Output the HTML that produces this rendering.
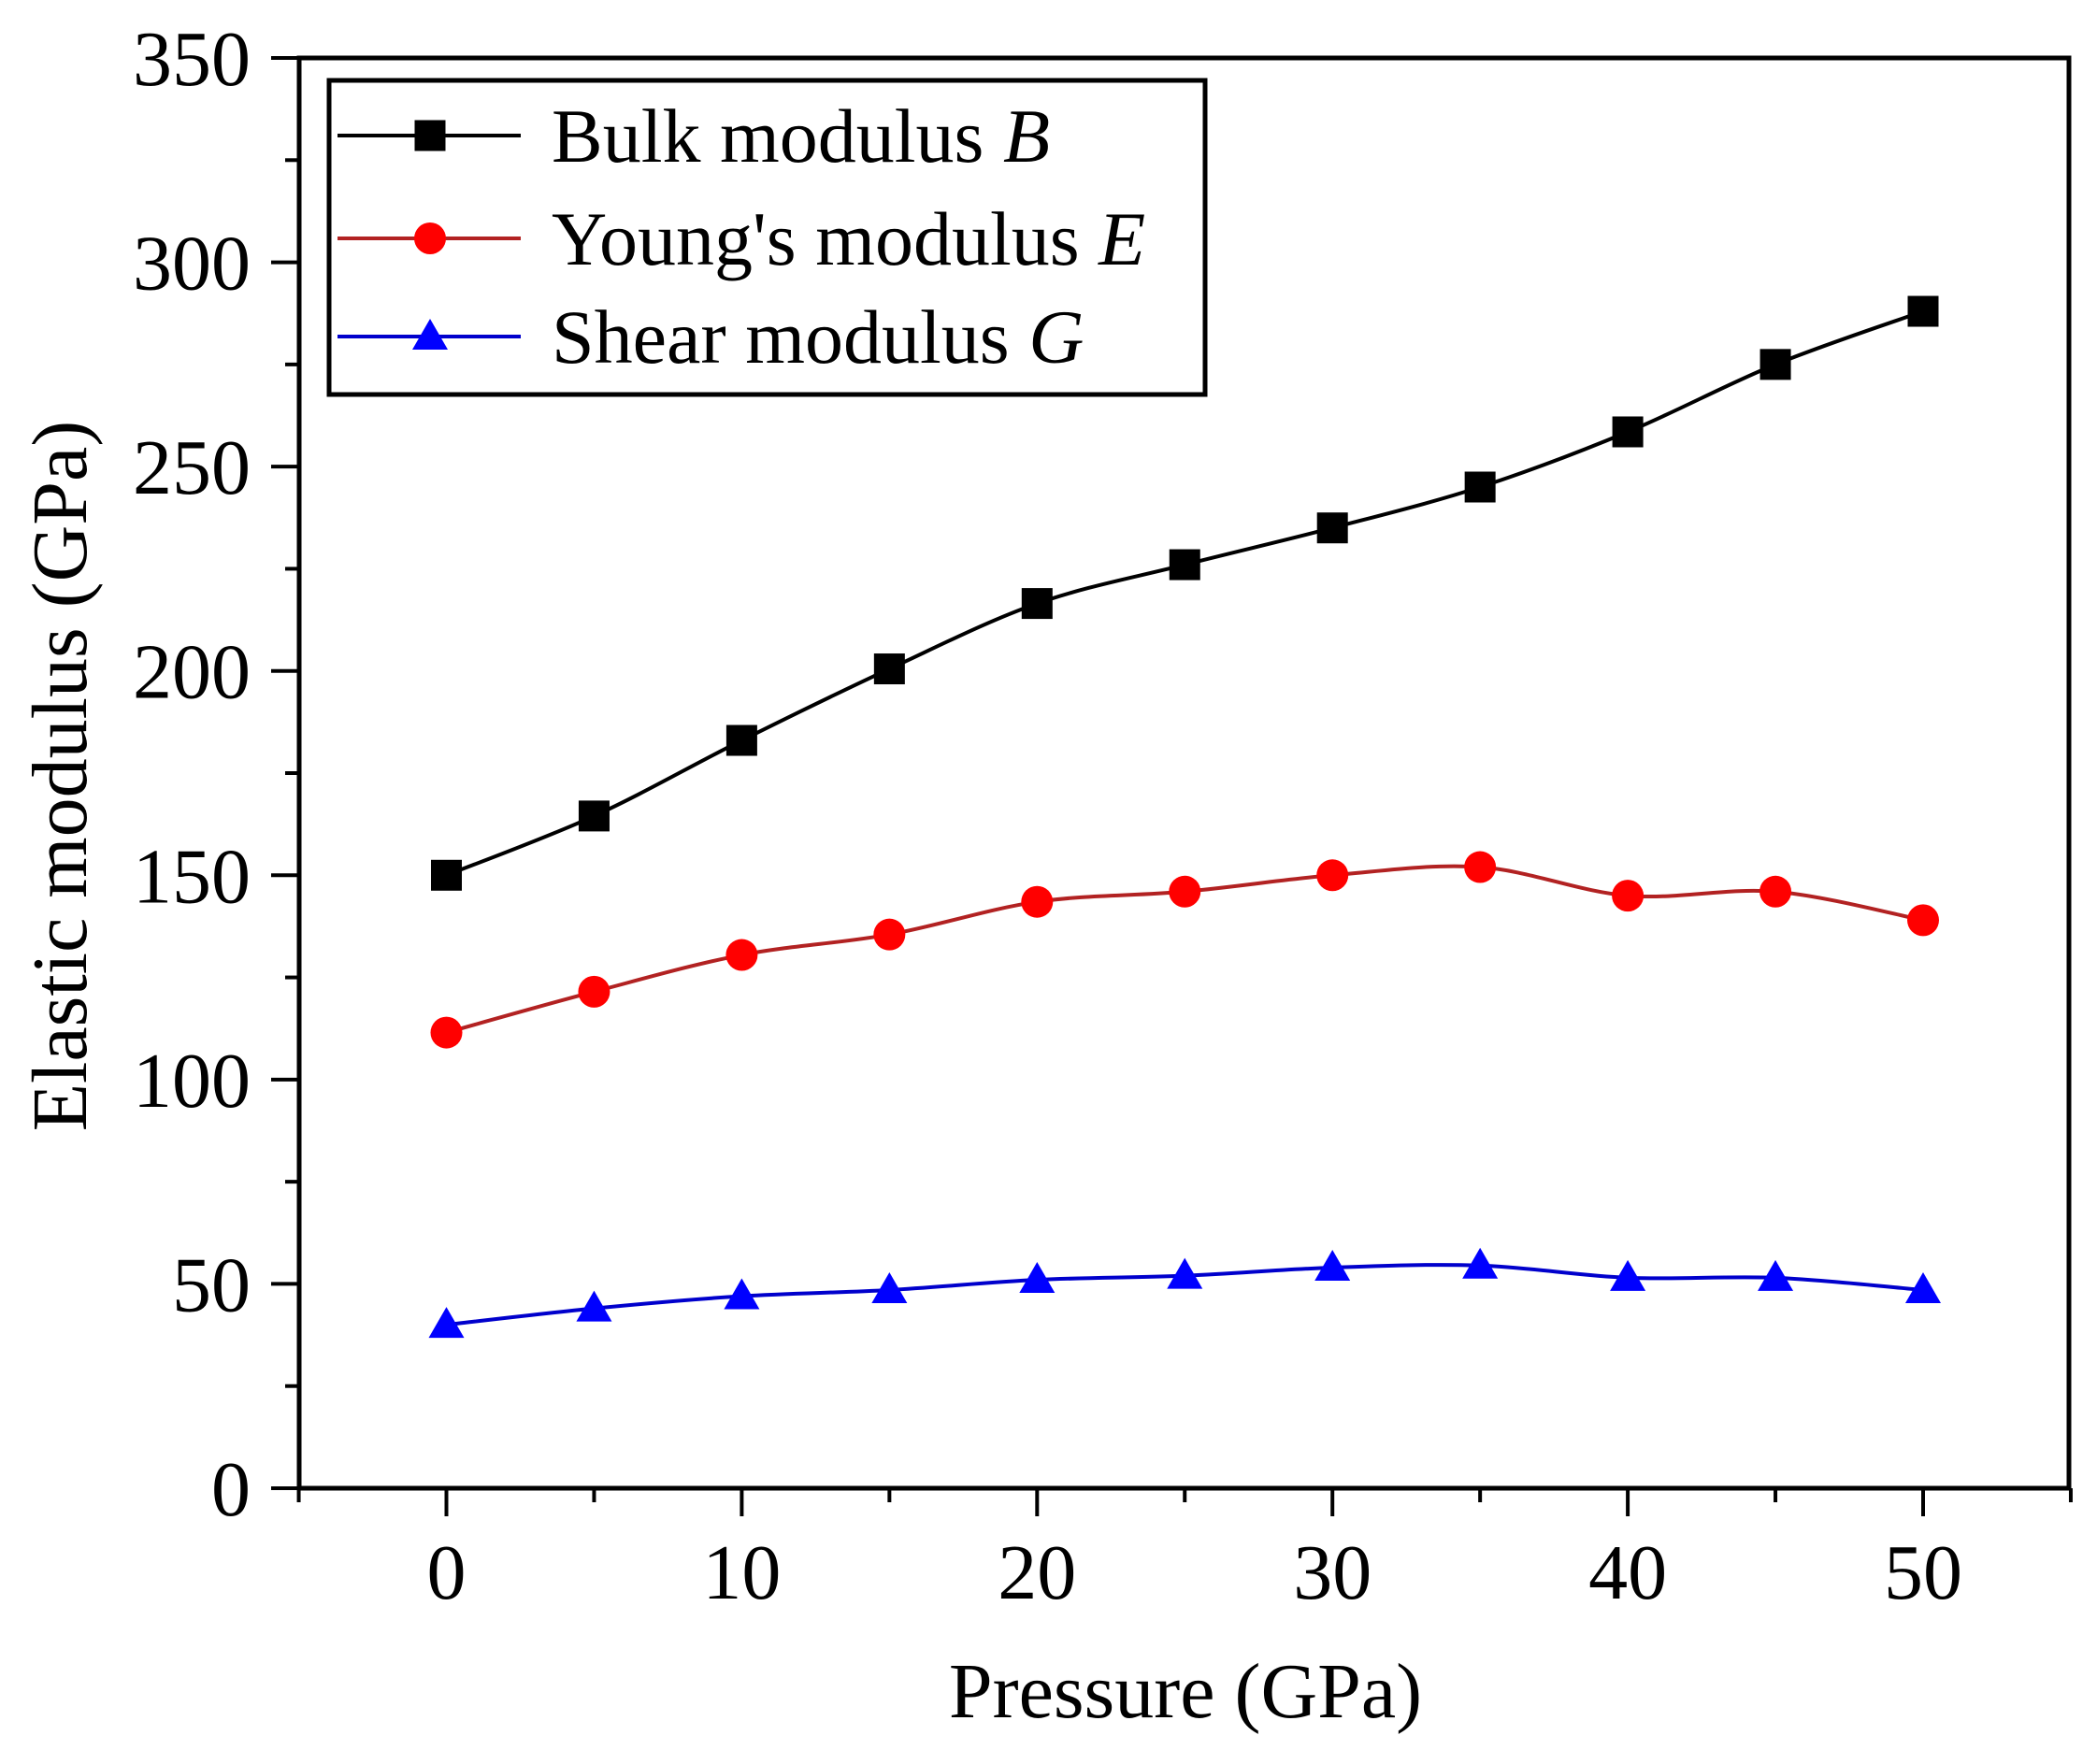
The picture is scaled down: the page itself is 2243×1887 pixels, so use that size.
<!DOCTYPE html>
<html><head><meta charset="utf-8"><style>
html,body{margin:0;padding:0;background:#fff;}
svg text{font-family:"Liberation Serif",serif;fill:#000;}
</style></head><body>
<svg id="chart" width="2243" height="1882" viewBox="0 0 2243 1882" xmlns="http://www.w3.org/2000/svg"></svg>
<script>
const pressures = [0,5,10,15,20,25,30,35,40,45,50];
const bulkB = [150,164.5,183,200.5,216.5,226,235,245,258.5,275,288];
const youngE = [111.5,121.5,130.5,135.5,143.5,146,150,152,145,146,139];
const shearG = [40,44,47,48.5,51,52,54,54.5,51.5,51.5,48.5];
const xTickLabels = [0,10,20,30,40,50];
const yTickLabels = [0,50,100,150,200,250,300,350];

const L=320,R=2213,T=62,B=1592;
const xs=v=>477.5+(v-0)*(2057-477.5)/50;
const ys=v=>B-v*(B-T)/350;
const svg=document.getElementById('chart');
const NS='http://www.w3.org/2000/svg';
function mk(tag,attrs,parent){const e=document.createElementNS(NS,tag);for(const k in attrs)e.setAttribute(k,attrs[k]);(parent||svg).appendChild(e);return e;}

const frame=mk('rect',{x:L,y:T,width:R-L,height:B-T,fill:'none',stroke:'#000','stroke-width':5});



for(let v=-5;v<=55;v+=5){
  const major=v%10===0;
  const t=mk('line',{x1:xs(v),x2:xs(v),y1:B,y2:B+(major?30:15),stroke:'#000','stroke-width':4});
  
  
}
xTickLabels.forEach(v=>{
  const t=mk('text',{x:xs(v),y:1710,'font-size':84,'text-anchor':'middle'});
  t.textContent=v;
  
  
});
for(let v=0;v<=350;v+=25){
  const major=v%50===0;
  const t=mk('line',{x1:L,x2:L-(major?30:15),y1:ys(v),y2:ys(v),stroke:'#000','stroke-width':4});
  
  
}
yTickLabels.forEach(v=>{
  const t=mk('text',{x:268,y:ys(v)+29,'font-size':84,'text-anchor':'end'});
  t.textContent=v;
  
  
});
const xt=mk('text',{x:1268,y:1837,'font-size':84,'text-anchor':'middle'});
xt.textContent='Pressure (GPa)';


const yt=mk('text',{x:0,y:0,'font-size':84,'text-anchor':'middle',transform:'translate(92,830) rotate(-90)'});
yt.textContent='Elastic modulus (GPa)';



function smoothPath(pts){
  let d=`M${pts[0][0]},${pts[0][1]}`;
  for(let i=0;i<pts.length-1;i++){
    const p0=pts[i-1]||pts[i],p1=pts[i],p2=pts[i+1],p3=pts[i+2]||p2;
    const c1=[p1[0]+(p2[0]-p0[0])/6,p1[1]+(p2[1]-p0[1])/6];
    const c2=[p2[0]-(p3[0]-p1[0])/6,p2[1]-(p3[1]-p1[1])/6];
    d+=` C${c1[0]},${c1[1]} ${c2[0]},${c2[1]} ${p2[0]},${p2[1]}`;
  }
  return d;
}
function marker(type,x,y,fill,g){
  if(type==='square') return mk('rect',{x:x-16.5,y:y-16.5,width:33,height:33,fill:fill},g);
  if(type==='circle') return mk('circle',{cx:x,cy:y,r:17,fill:fill},g);
  return mk('polygon',{points:`${x},${y-19} ${x-19},${y+14} ${x+19},${y+14}`,fill:fill},g);
}
const series=[
  {name:'bulk',vals:bulkB,line:'#000',fill:'#000',m:'square'},
  {name:'young',vals:youngE,line:'#b22222',fill:'#f00',m:'circle'},
  {name:'shear',vals:shearG,line:'#0000cc',fill:'#00f',m:'triangle'}
];
series.forEach(s=>{
  const g=mk('g',{});
  
  
  const pts=pressures.map((p,i)=>[xs(p),ys(s.vals[i])]);
  const path=mk('path',{d:smoothPath(pts),fill:'none',stroke:s.line,'stroke-width':4},g);
  
  
  pts.forEach(p=>{
    const m=marker(s.m,p[0],p[1],s.fill,g);
    
    
  });
});

const lg=mk('g',{});


mk('rect',{x:352,y:86,width:937,height:336,fill:'#fff',stroke:'#000','stroke-width':5},lg);
const labels=[['Bulk modulus ','B'],["Young's modulus ",'E'],['Shear modulus ','G']];
const rowsY=[145,255,360];
series.forEach((s,i)=>{
  const e=mk('g',{},lg);
  
  
  mk('line',{x1:361,x2:557,y1:rowsY[i],y2:rowsY[i],stroke:s.line,'stroke-width':4},e);
  marker(s.m,460,rowsY[i],s.fill,e);
  const t=mk('text',{x:590,y:rowsY[i]+28,'font-size':82},e);
  t.textContent=labels[i][0];
  const it=mk('tspan',{'font-style':'italic'},t);
  it.textContent=labels[i][1];
});
</script>
</body></html>
